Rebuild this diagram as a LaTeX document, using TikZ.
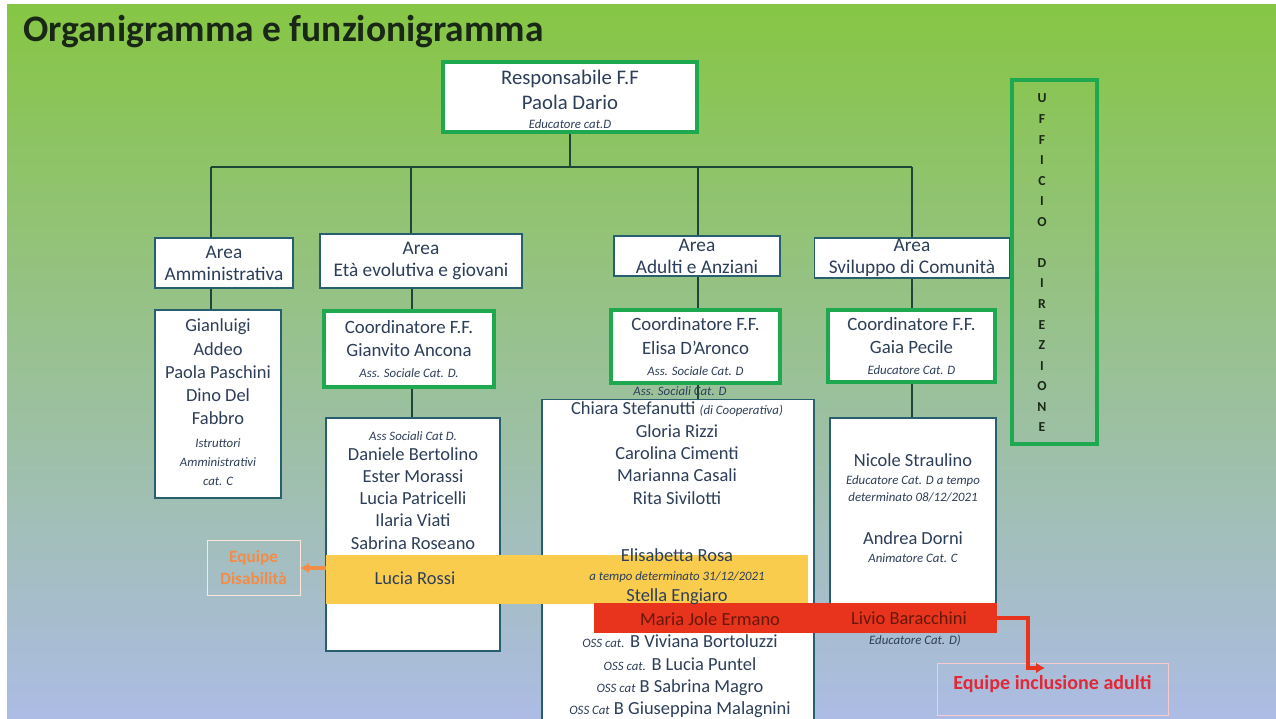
\documentclass[tikz,border=0pt]{standalone}
\usepackage{fontspec}
\setmainfont{Carlito}
\usetikzlibrary{positioning, arrows.meta}

\definecolor{grn}{RGB}{30,168,80}
\definecolor{txc}{RGB}{45,62,88}
\definecolor{ttc}{RGB}{25,40,22}
\definecolor{lnc}{RGB}{30,70,55}
\definecolor{bdr}{RGB}{40,95,110}
\definecolor{bgtop}{RGB}{134,198,68}
\definecolor{bgmid}{RGB}{146,198,150}
\definecolor{bgbot}{RGB}{172,188,228}
\definecolor{yband}{RGB}{250,204,78}
\definecolor{rband}{RGB}{232,52,28}
\definecolor{orng}{RGB}{242,140,72}
\definecolor{redt}{RGB}{225,40,55}

\newcommand{\smit}[1]{{\fontsize{7.3}{8}\selectfont\itshape #1}}

\begin{document}
\begin{tikzpicture}[x=0.02cm, y=-0.02cm,
      hdbox/.style={rectangle, draw=grn, line width=2.6pt, fill=white,
        align=center, text=txc, font=\fontsize{10.7}{13.5}\selectfont, inner sep=1pt},
      areabox/.style={rectangle, draw=bdr, line width=0.7pt, fill=white,
        align=center, text=txc, font=\fontsize{11}{12.6}\selectfont, inner sep=0.5pt},
      staffbox/.style={rectangle, draw=bdr, line width=0.7pt, fill=white},
      nm/.style={align=center, text=txc, anchor=north, inner sep=1pt,
        font=\fontsize{10.5}{12.7}\selectfont},
      lnk/.style={draw=lnc, line width=0.85pt},
      oarr/.style={-{Latex[length=5pt, width=6pt]}, draw=orng, line width=2.2pt},
      rarr/.style={-{Latex[length=5pt, width=6pt]}, draw=rband, line width=1.8pt}
    ]
    \clip (0,0) rectangle (1276,719);
    % === background ===
    \fill[white] (0,0) rectangle (1276,719);
    \shade[top color=bgtop, middle color=bgmid, bottom color=bgbot] (7,5) rectangle (1276,719);
    \node[font=\fontsize{21.3}{25}\selectfont\bfseries, text=ttc, anchor=west] (ttl) at (17,32)
    {Organigramma e funzionigramma};
    % === Responsabile ===
    \node[hdbox, font=\fontsize{11.8}{13.7}\selectfont, minimum width=5.08cm, minimum height=1.4cm] (resp) at (570,97)
    {\rule{0pt}{11pt}Responsabile F.F\\Paola Dario\\[-2.8pt]\smit{Educatore cat.D}};
    % === Row 1: aree ===
    \node[areabox, minimum width=2.76cm, minimum height=1cm] (aamm) at (224,263)
    {Area\\Amministrativa};
    \node[areabox, minimum width=4.04cm, minimum height=1.08cm] (aeta) at (421,261)
    {Area\\Età evolutiva e giovani};
    \node[areabox, minimum width=3.32cm, minimum height=0.8cm] (aadu) at (697,256)
    {Area\\Adulti e Anziani};
    \node[areabox, minimum width=3.9cm, minimum height=0.8cm] (asvi) at (912,258)
    {Area\\Sviluppo di Comunità};
    % === Row 2: coordinatori ===
    \node[hdbox, minimum width=3.4cm, minimum height=1.52cm] (ceta) at (409,349)
    {Coordinatore F.F.\\Gianvito Ancona\\[-1.5pt]\smit{Ass. Sociale Cat. D.}};
    \node[hdbox, minimum width=3.38cm, minimum height=1.46cm] (cadu) at (695.5,346.5)
    {Coordinatore F.F.\\Elisa D'Aronco\\[-1.5pt]\smit{Ass. Sociale Cat. D}};
    \node[hdbox, minimum width=3.34cm, minimum height=1.44cm] (csvi) at (911.5,346)
    {Coordinatore F.F.\\Gaia Pecile\\[-1.5pt]\smit{Educatore Cat. D}};
    % Ufficio direzione
    \node[hdbox, fill=none, minimum width=1.7cm, minimum height=7.28cm] (uff) at (1054.5,262) {};
    \node[font=\fontsize{7.8}{11.7}\selectfont\bfseries, text=ttc, align=center, inner sep=0pt] (tuff)
    at (1042,263) {U\\F\\F\\I\\C\\I\\O\\\mbox{}\\D\\I\\R\\E\\Z\\I\\O\\N\\E};
    % === Row 3: personale ===
    \node[staffbox, minimum width=2.52cm, minimum height=3.76cm] (samm) at (218,404) {};
    \node[staffbox, minimum width=3.48cm, minimum height=4.66cm] (seta) at (413,534.5) {};
    \node[staffbox, minimum width=5.44cm, minimum height=6.5cm] (sadu) at (678,562) {};
    \node[staffbox, minimum width=3.32cm, minimum height=3.72cm] (ssvi) at (913,511) {};
    % equipe bands
    \node[fill=yband, minimum width=9.64cm, minimum height=0.98cm, inner sep=0pt] (ybd) at (567,579.5) {};
    \node[fill=rband, minimum width=8.06cm, minimum height=0.6cm, inner sep=0pt] (rbd) at (795.5,618) {};
    % names
    \node[nm, font=\fontsize{10.5}{13.2}\selectfont] (tamm) at (218,317)
    {Gianluigi\\Addeo\\Paola Paschini\\Dino Del\\Fabbro\\\smit{Istruttori}\\[-2.4pt]\smit{Amministrativi}\\[-2.4pt]\smit{cat. C}};
    \node[nm] (teta) at (413,429)
    {\smit{Ass Sociali Cat D.}\\[-1.3pt]Daniele Bertolino\\Ester Morassi\\Lucia Patricelli\\Ilaria Viati\\Sabrina Roseano};
    \node[nm] (trossi) at (415,570) {Lucia Rossi};
    \node[nm, inner sep=0pt] (tass) at (680,386) {\smit{Ass. Sociali Cat. D}};
    \node[nm] (tadu) at (677,400)
    {Chiara Stefanutti \smit{(di Cooperativa)}\\Gloria Rizzi\\Carolina Cimenti\\Marianna Casali\\Rita Sivilotti};
    \node[nm] (trosa) at (677,547)
    {Elisabetta Rosa\\[-2pt]\smit{a tempo determinato 31/12/2021}\\[-0.8pt]Stella Engiaro};
    \node[nm, text=rband!45!black] (termano) at (710,611) {Maria Jole Ermano};
    \node[nm] (toss) at (680,633)
    {\smit{OSS cat.} B Viviana Bortoluzzi\\\smit{OSS cat.} B Lucia Puntel\\\smit{OSS cat} B Sabrina Magro\\\smit{OSS Cat} B Giuseppina Malagnini};
    \node[nm] (tsvi) at (913,452)
    {Nicole Straulino\\[-2.5pt]\smit{Educatore Cat. D a tempo}\\[-3pt]\smit{determinato 08/12/2021}\\[11.8pt]Andrea Dorni\\[-2.5pt]\smit{Animatore Cat. C}};
    \node[nm, text=rband!45!black] (tlivio) at (909,610) {Livio Baracchini};
    \node[nm, inner sep=0pt] (tlivcat) at (915,635) {\smit{Educatore Cat. D)}};
    % equipe labels
    \node[draw=white!80!orng, line width=0.4pt, minimum width=1.86cm, minimum height=1.1cm,
      align=center, text=orng, font=\fontsize{9.8}{12.5}\selectfont\bfseries] (eqdis) at (253.5,568)
    {Equipe\\Disabilità};
    \node[draw=white!75!redt, line width=0.4pt, minimum width=4.62cm, minimum height=1.04cm,
      text=redt, font=\fontsize{11.4}{13}\selectfont\bfseries] (eqinc) at (1052.5,689)
    {\raisebox{7pt}{Equipe inclusione adulti}};
    % === connectors ===
    \coordinate (c1) at (211,167);
    \coordinate (c2) at (411,167);
    \coordinate (c3) at (698,167);
    \coordinate (c4) at (912,167);
    \draw[lnk] (resp.south) -- (resp.south |- c1);
    \draw[lnk] (c1) -- (c4);
    \draw[lnk] (c1) -- (c1 |- aamm.north);
    \draw[lnk] (c2) -- (c2 |- aeta.north);
    \draw[lnk] (c3) -- (c3 |- aadu.north);
    \draw[lnk] (c4) -- (c4 |- asvi.north);
    \draw[lnk] (c1 |- aamm.south) -- (c1 |- samm.north);
    \draw[lnk] ([xshift=0.02cm]c2 |- aeta.south) -- ([xshift=0.02cm]c2 |- ceta.north);
    \draw[lnk] ([xshift=0.02cm]c2 |- ceta.south) -- ([xshift=0.02cm]c2 |- seta.north);
    \draw[lnk] (c3 |- aadu.south) -- (c3 |- cadu.north);
    \draw[lnk] (c3 |- cadu.south) -- (c3 |- sadu.north);
    \draw[lnk] (c4 |- asvi.south) -- (c4 |- csvi.north);
    \draw[lnk] (c4 |- csvi.south) -- (c4 |- ssvi.north);
    % equipe arrows
    \draw[oarr] (ybd.west |- eqdis.east) -- (eqdis.east);
    \coordinate (rk) at (1028,618);
    \coordinate (rtip) at (1045,668);
    \draw[rarr] (rbd.east) -- (rk) |- (rtip);
  \end{tikzpicture}
\end{document}
